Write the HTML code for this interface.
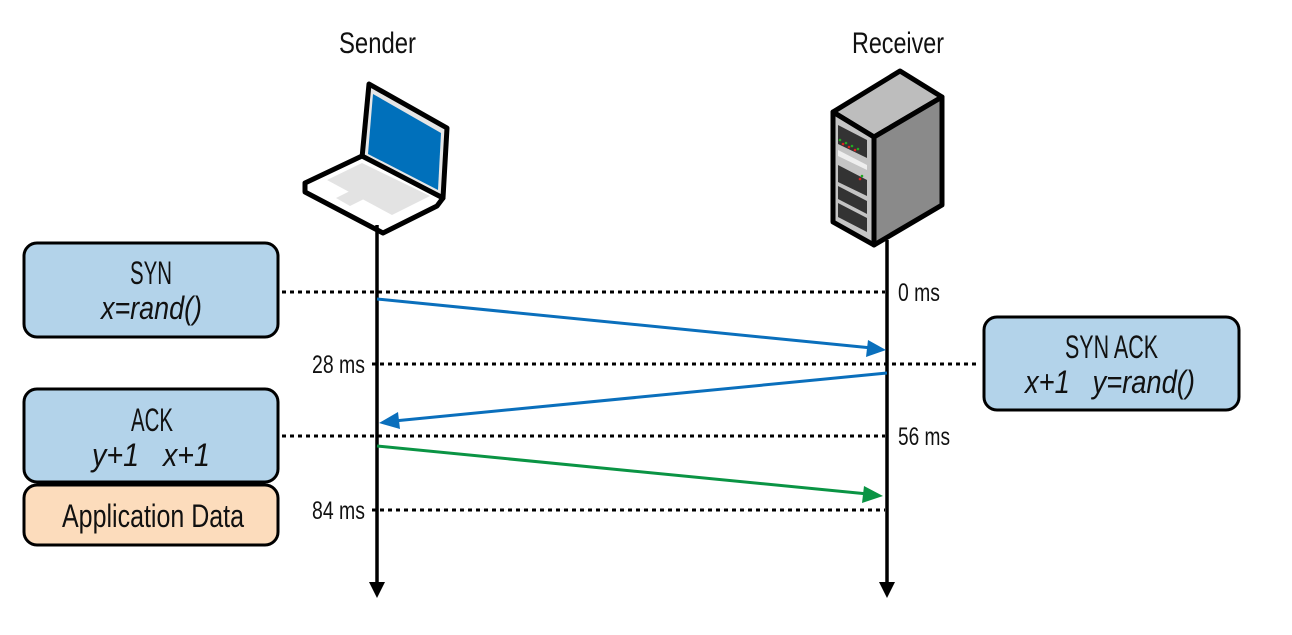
<!DOCTYPE html>
<html><head><style>
body{margin:0;background:#fff;}
svg text{font-family:"Liberation Sans Narrow","Liberation Sans",sans-serif;fill:#111;}
</style></head><body>
<svg width="1292" height="630" viewBox="0 0 1292 630" xmlns="http://www.w3.org/2000/svg">
<text x="339" y="53" font-size="30" textLength="77" lengthAdjust="spacingAndGlyphs">Sender</text>
<text x="852" y="53" font-size="30" textLength="92" lengthAdjust="spacingAndGlyphs">Receiver</text>
<!-- laptop -->
<polygon points="369,84 447,128 443,198 362,158" fill="#e6e6e6" stroke="#000" stroke-width="5" stroke-linejoin="round"/>
<polygon points="373,94 441,133 438,190 368,154" fill="#0070bb"/>
<polygon points="305,183 362,156 443,198 437,206 383,233 305,192" fill="#fff" stroke="#000" stroke-width="5" stroke-linejoin="round"/>
<polygon points="327,180 362,163 430,196 392,215" fill="#e3e3e3"/>
<polygon points="336,198 350,191 364,199 350,206" fill="#e3e3e3"/>
<!-- server -->
<polygon points="833,112 900,71 942,97 874,137" fill="#bdbdbd" stroke="#000" stroke-width="5" stroke-linejoin="round"/>
<polygon points="874,137 942,97 942,205 874,245" fill="#8a8a8a" stroke="#000" stroke-width="5" stroke-linejoin="round"/>
<polygon points="833,112 874,137 874,245 833,222" fill="#c4c4c4" stroke="#000" stroke-width="5" stroke-linejoin="round"/>
<polygon points="838,125 867,140 867,158 838,144" fill="#333"/>
<polygon points="838,150 867,165 867,170 838,156" fill="#eee"/>
<polygon points="838,165 867,180 867,196 838,182" fill="#333"/>
<polygon points="838,186 867,201 867,214 838,199" fill="#333"/>
<polygon points="838,203 867,218 867,232 838,217" fill="#333"/>
<g fill="#2a2"><circle cx="840" cy="140" r="1.3"/><circle cx="846" cy="143" r="1.3"/><circle cx="852" cy="146" r="1.3"/><circle cx="858" cy="149" r="1.3"/><circle cx="862" cy="176" r="1.3"/></g>
<g fill="#d22"><circle cx="843" cy="144" r="1.3"/><circle cx="849" cy="147" r="1.3"/><circle cx="855" cy="150" r="1.3"/><circle cx="860" cy="179" r="1.3"/></g>
<!-- lifelines -->
<line x1="377" y1="225" x2="377" y2="585" stroke="#000" stroke-width="3.5"/>
<polygon points="369,582 385,582 377,598" fill="#000"/>
<line x1="887" y1="240" x2="887" y2="585" stroke="#000" stroke-width="3.5"/>
<polygon points="879,582 895,582 887,598" fill="#000"/>
<!-- dotted -->
<g stroke="#000" stroke-width="3" stroke-dasharray="4,4">
<line x1="282" y1="292" x2="885" y2="292"/>
<line x1="372" y1="364" x2="979" y2="364"/>
<line x1="282" y1="436" x2="885" y2="436"/>
<line x1="372" y1="510" x2="885" y2="510"/>
</g>
<!-- arrows -->
<line x1="377" y1="299" x2="872" y2="348" stroke="#0a6fbc" stroke-width="3"/>
<polygon points="886,350 868,340 866,357" fill="#0a6fbc"/>
<line x1="887" y1="373" x2="394" y2="421" stroke="#0a6fbc" stroke-width="3"/>
<polygon points="379,423 398,412 400,429" fill="#0a6fbc"/>
<line x1="377" y1="446" x2="868" y2="494" stroke="#0a9444" stroke-width="3"/>
<polygon points="883,496 864,486 862,503" fill="#0a9444"/>
<!-- labels -->
<text x="898" y="301" font-size="25" textLength="42" lengthAdjust="spacingAndGlyphs">0 ms</text>
<text x="312" y="373" font-size="25" textLength="53" lengthAdjust="spacingAndGlyphs">28 ms</text>
<text x="898" y="445" font-size="25" textLength="52" lengthAdjust="spacingAndGlyphs">56 ms</text>
<text x="312" y="519" font-size="25" textLength="53" lengthAdjust="spacingAndGlyphs">84 ms</text>
<!-- boxes -->
<rect x="24" y="243" width="254" height="94" rx="13" fill="#b3d3ea" stroke="#000" stroke-width="3"/>
<text x="130" y="284" font-size="32" textLength="42" lengthAdjust="spacingAndGlyphs">SYN</text>
<text x="101" y="319" font-size="32" font-style="italic" textLength="101" lengthAdjust="spacingAndGlyphs">x=rand()</text>
<rect x="984" y="317" width="255" height="93" rx="13" fill="#b3d3ea" stroke="#000" stroke-width="3"/>
<text x="1065" y="358" font-size="32" textLength="93" lengthAdjust="spacingAndGlyphs">SYN ACK</text>
<text x="1025" y="393" font-size="32" font-style="italic" xml:space="preserve" textLength="170" lengthAdjust="spacingAndGlyphs">x+1   y=rand()</text>
<rect x="24" y="389" width="254" height="93" rx="13" fill="#b3d3ea" stroke="#000" stroke-width="3"/>
<text x="131" y="431" font-size="32" textLength="42" lengthAdjust="spacingAndGlyphs">ACK</text>
<text x="92" y="466" font-size="32" font-style="italic" xml:space="preserve" textLength="118" lengthAdjust="spacingAndGlyphs">y+1   x+1</text>
<rect x="24" y="485" width="254" height="60" rx="13" fill="#fcdcbc" stroke="#000" stroke-width="3"/>
<text x="62" y="527" font-size="32" textLength="182" lengthAdjust="spacingAndGlyphs">Application Data</text>
</svg>
</body></html>
